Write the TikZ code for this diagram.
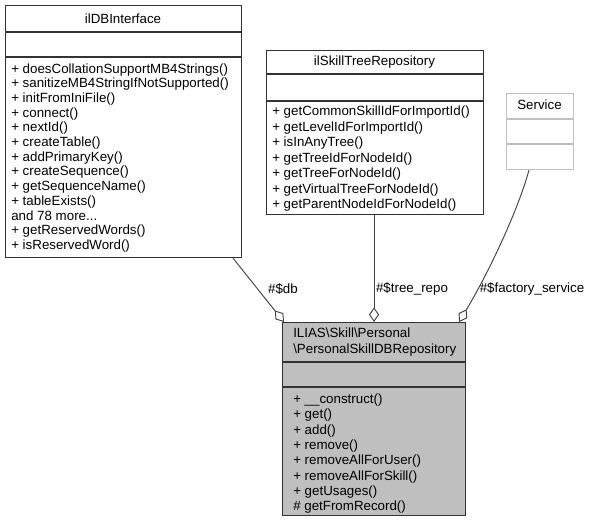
\documentclass[tikz,border=0pt]{standalone}
\usepackage{fontspec}
\setmainfont{Liberation Sans}
\usetikzlibrary{arrows.meta,calc}
\definecolor{edgegray}{HTML}{404040}
\definecolor{boxgray}{HTML}{BFBFBF}
\definecolor{svcgray}{HTML}{BFBFBF}
\definecolor{boxline}{HTML}{333333}
\tikzset{
  umlbox/.style={draw=boxline, line width=0.85pt, fill=white, inner sep=0pt, anchor=north west},
  sep/.style={draw=boxline, line width=0.85pt},
  txt/.style={font=\fontsize{10pt}{11pt}\selectfont, inner sep=0pt, text=black},
  meth/.style={txt, anchor=base west},
  agg/.style={draw=edgegray, line width=0.7pt, -{Diamond[open,length=11pt,width=7.5pt]}},
}
\newcommand\threedots{...}
\newcommand\umlboxat[6]{%
  \node[umlbox,#6, minimum width={0.75*(#4-#2)}, minimum height={0.75*(#5-#3)}] (#1) at (#2,#3) {};}
\newcommand\mlist[5]{%
  \foreach \t [count=\i] in {#5} {\node[meth] (#1\i) at ({#2},{#3+4.5+(\i-1)*#4}) {\t};}}
\begin{document}
\begin{tikzpicture}[x=0.75pt,y=-0.75pt]
\useasboundingbox (0,0) rectangle (590,521);

% ilDBInterface
\umlboxat{db}{5}{5}{241}{257}{}
\draw[sep] (db.west |- 0,32) -- (db.east |- 0,32);
\draw[sep] (db.west |- 0,57) -- (db.east |- 0,57);
\node[txt] (dbt) at (123,19) {ilDBInterface};
\mlist{dbm}{11}{68.5}{14.7}{%
  + doesCollationSupportMB4Strings(),
  + sanitizeMB4StringIfNotSupported(),
  + initFromIniFile(),
  + connect(),
  + nextId(),
  + createTable(),
  + addPrimaryKey(),
  + createSequence(),
  + getSequenceName(),
  + tableExists(),
  and 78 more\threedots,
  + getReservedWords(),
  + isReservedWord()}

% ilSkillTreeRepository
\umlboxat{skill}{266}{50}{483}{214}{}
\draw[sep] (skill.west |- 0,74) -- (skill.east |- 0,74);
\draw[sep] (skill.west |- 0,101) -- (skill.east |- 0,101);
\node[txt] (skillt) at (374.5,62) {ilSkillTreeRepository};
\mlist{skm}{272}{111}{15.5}{%
  + getCommonSkillIdForImportId(),
  + getLevelIdForImportId(),
  + isInAnyTree(),
  + getTreeIdForNodeId(),
  + getTreeForNodeId(),
  + getVirtualTreeForNodeId(),
  + getParentNodeIdForNodeId()}

% Service
\umlboxat{svc}{506}{93}{573}{169}{draw=svcgray}
\draw[sep,draw=svcgray] (svc.west |- 0,119) -- (svc.east |- 0,119);
\draw[sep,draw=svcgray] (svc.west |- 0,144) -- (svc.east |- 0,144);
\node[txt] (svct) at (539.5,105) {Service};

% main class
\umlboxat{main}{282}{322}{465}{515}{fill=boxgray}
\draw[sep] (main.west |- 0,362) -- (main.east |- 0,362);
\draw[sep] (main.west |- 0,387) -- (main.east |- 0,387);
\node[meth] (mt1) at (293,337.5) {ILIAS\textbackslash Skill\textbackslash Personal};
\node[meth] (mt2) at (293,353.5) {\textbackslash PersonalSkillDBRepository};
\mlist{mm}{293}{399}{15.3}{%
  + \_\_construct(),
  + get(),
  + add(),
  + remove(),
  + removeAllForUser(),
  + removeAllForSkill(),
  + getUsages(),
  \# getFromRecord()}

% connectors
\draw[agg] ([xshift=171pt]db.south west) -- ([xshift=1.5pt]main.north west);
\draw[agg] (main.north |- skill.south) -- (main.north);
\draw[agg] ([xshift=17.25pt]svc.south west) .. controls (518,210) and (490,270) .. ([xshift=-5.25pt]main.north east);

% labels
\node[txt] (ldb) at (283,289) {\#\$db};
\node[txt] (ltree) at (412,289) {\#\$tree\_repo};
\node[txt] (lfac) at (532,289) {\#\$factory\_service};
\end{tikzpicture}
\end{document}
